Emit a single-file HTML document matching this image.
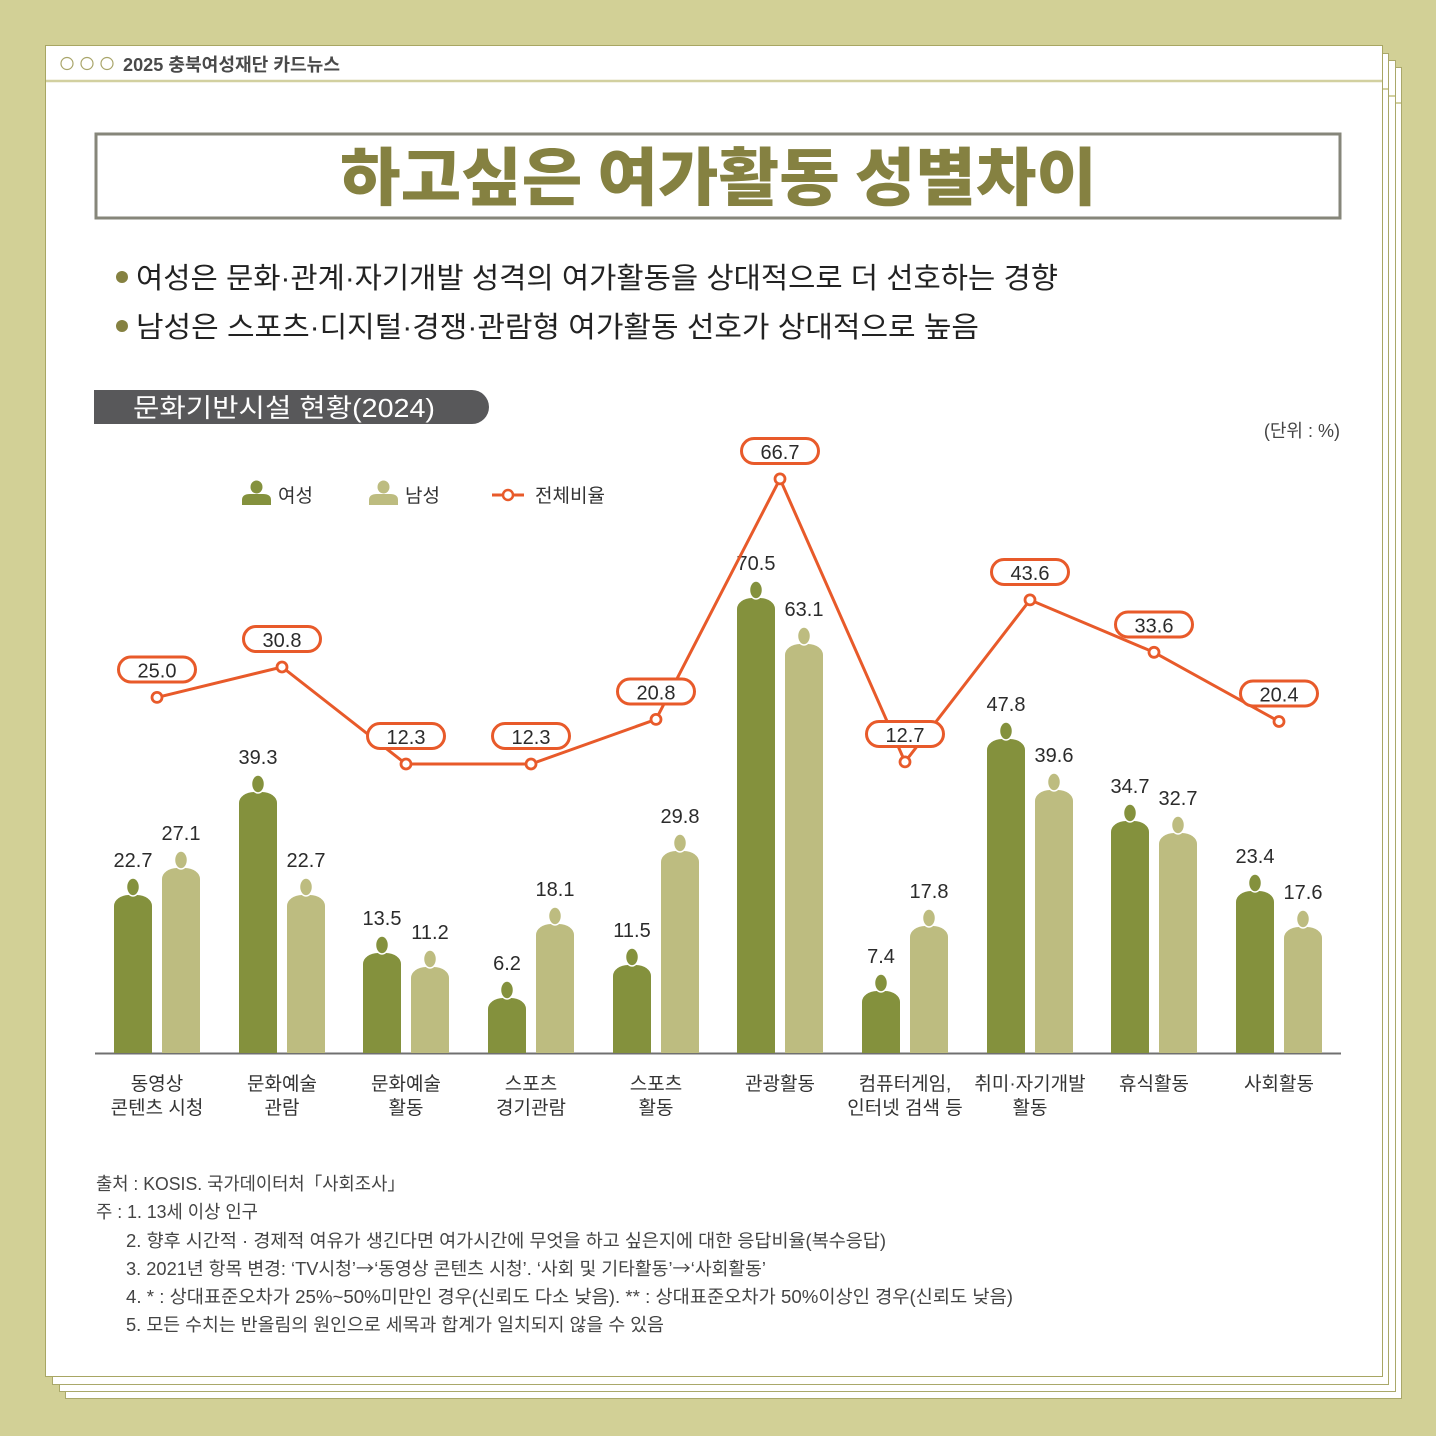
<!DOCTYPE html>
<html><head><meta charset="utf-8"><style>
html,body{margin:0;padding:0;background:#d2d096;}
svg{display:block;}
text{font-family:"Liberation Sans","Noto Sans CJK KR",sans-serif;}
.v{font-size:20px;fill:#2b2b2b;text-anchor:middle;}
.xl{font-size:19px;fill:#333;text-anchor:middle;}
.fn{font-size:18px;fill:#444;}
.ar{font-family:"Noto Sans CJK KR",sans-serif;}
</style></head><body>
<svg width="1436" height="1436" viewBox="0 0 1436 1436" xmlns="http://www.w3.org/2000/svg">
<rect width="1436" height="1436" fill="#d2d096"/>
<!-- stacked cards -->
<rect x="65.5" y="67.5" width="1336" height="1331" fill="#fff" stroke="#aaa86a"/>
<line x1="66" y1="103" x2="1401" y2="103" stroke="#d2d0a0" stroke-width="2"/>
<rect x="59.5" y="60.5" width="1336" height="1331" fill="#fff" stroke="#aaa86a"/>
<line x1="60" y1="96" x2="1395" y2="96" stroke="#d2d0a0" stroke-width="2"/>
<rect x="52.5" y="53.5" width="1336" height="1331" fill="#fff" stroke="#aaa86a"/>
<line x1="53" y1="89" x2="1388" y2="89" stroke="#d2d0a0" stroke-width="2"/>
<rect x="45.5" y="45.5" width="1337" height="1331" fill="#fff" stroke="#a8a663"/>
<line x1="46" y1="81" x2="1382" y2="81" stroke="#d2d0a0" stroke-width="2.5"/>
<!-- header -->
<circle cx="67" cy="63.5" r="6" fill="none" stroke="#a9a56a" stroke-width="1.2"/>
<circle cx="87" cy="63.5" r="6" fill="none" stroke="#a9a56a" stroke-width="1.2"/>
<circle cx="107" cy="63.5" r="6" fill="none" stroke="#a9a56a" stroke-width="1.2"/>
<text x="123" y="71" font-size="18" font-weight="700" fill="#4a4a4a" textLength="217" lengthAdjust="spacingAndGlyphs">2025 충북여성재단 카드뉴스</text>
<!-- title -->
<rect x="96" y="134" width="1244" height="84" fill="none" stroke="#86867a" stroke-width="3"/>
<text x="340" y="200" font-size="63" font-weight="900" fill="#858141" style='font-family:"Noto Sans CJK KR",sans-serif' textLength="757" lengthAdjust="spacingAndGlyphs">하고싶은 여가활동 성별차이</text>
<!-- bullets -->
<circle cx="122" cy="277" r="6" fill="#858141"/>
<text x="136" y="288" font-size="29" fill="#222" textLength="922" lengthAdjust="spacingAndGlyphs">여성은 문화·관계·자기개발 성격의 여가활동을 상대적으로 더 선호하는 경향</text>
<circle cx="122" cy="326" r="6" fill="#858141"/>
<text x="136" y="337" font-size="29" fill="#222" textLength="843" lengthAdjust="spacingAndGlyphs">남성은 스포츠·디지털·경쟁·관람형 여가활동 선호가 상대적으로 높음</text>
<!-- section pill -->
<path d="M94 390H472A17 17 0 0 1 472 424H94Z" fill="#58585a"/>
<text x="133" y="417" font-size="26" fill="#fff" textLength="302" lengthAdjust="spacingAndGlyphs">문화기반시설 현황(2024)</text>
<text x="1340" y="437" font-size="18" fill="#444" text-anchor="end">(단위 : %)</text>
<!-- legend -->
<ellipse cx="256.5" cy="487" rx="6" ry="6.5" fill="#84913d"/>
<path d="M242 505V500Q242 494 250 494H263Q271 494 271 500V505Z" fill="#84913d"/>
<text x="278" y="502" font-size="19" fill="#333">여성</text>
<ellipse cx="383.5" cy="487" rx="6" ry="6.5" fill="#bdbc80"/>
<path d="M369 505V500Q369 494 377 494H390Q398 494 398 500V505Z" fill="#bdbc80"/>
<text x="405" y="502" font-size="19" fill="#333">남성</text>
<line x1="492" y1="495" x2="524" y2="495" stroke="#e85a2a" stroke-width="3"/>
<circle cx="508" cy="495" r="5" fill="#fff" stroke="#e85a2a" stroke-width="2.5"/>
<text x="535" y="502" font-size="19" fill="#333">전체비율</text>
<!-- axis -->
<line x1="95" y1="1053.5" x2="1341" y2="1053.5" stroke="#707070" stroke-width="2"/>
<!-- female bars -->
<g fill="#84913d" stroke="#fff" stroke-width="1.5">
<path d="M114 1053V906A15 11 0 0 1 129 895H137A15 11 0 0 1 152 906V1053Z" stroke="none"/><ellipse cx="133" cy="887" rx="6.5" ry="9"/>
<path d="M239 1053V803A15 11 0 0 1 254 792H262A15 11 0 0 1 277 803V1053Z" stroke="none"/><ellipse cx="258" cy="784" rx="6.5" ry="9"/>
<path d="M363 1053V964A15 11 0 0 1 378 953H386A15 11 0 0 1 401 964V1053Z" stroke="none"/><ellipse cx="382" cy="945" rx="6.5" ry="9"/>
<path d="M488 1053V1009A15 11 0 0 1 503 998H511A15 11 0 0 1 526 1009V1053Z" stroke="none"/><ellipse cx="507" cy="990" rx="6.5" ry="9"/>
<path d="M613 1053V976A15 11 0 0 1 628 965H636A15 11 0 0 1 651 976V1053Z" stroke="none"/><ellipse cx="632" cy="957" rx="6.5" ry="9"/>
<path d="M737 1053V609A15 11 0 0 1 752 598H760A15 11 0 0 1 775 609V1053Z" stroke="none"/><ellipse cx="756" cy="590" rx="6.5" ry="9"/>
<path d="M862 1053V1002A15 11 0 0 1 877 991H885A15 11 0 0 1 900 1002V1053Z" stroke="none"/><ellipse cx="881" cy="983" rx="6.5" ry="9"/>
<path d="M987 1053V750A15 11 0 0 1 1002 739H1010A15 11 0 0 1 1025 750V1053Z" stroke="none"/><ellipse cx="1006" cy="731" rx="6.5" ry="9"/>
<path d="M1111 1053V832A15 11 0 0 1 1126 821H1134A15 11 0 0 1 1149 832V1053Z" stroke="none"/><ellipse cx="1130" cy="813" rx="6.5" ry="9"/>
<path d="M1236 1053V902A15 11 0 0 1 1251 891H1259A15 11 0 0 1 1274 902V1053Z" stroke="none"/><ellipse cx="1255" cy="883" rx="6.5" ry="9"/>
</g>
<!-- male bars -->
<g fill="#bdbc80" stroke="#fff" stroke-width="1.5">
<path d="M162 1053V879A15 11 0 0 1 177 868H185A15 11 0 0 1 200 879V1053Z" stroke="none"/><ellipse cx="181" cy="860" rx="6.5" ry="9"/>
<path d="M287 1053V906A15 11 0 0 1 302 895H310A15 11 0 0 1 325 906V1053Z" stroke="none"/><ellipse cx="306" cy="887" rx="6.5" ry="9"/>
<path d="M411 1053V978A15 11 0 0 1 426 967H434A15 11 0 0 1 449 978V1053Z" stroke="none"/><ellipse cx="430" cy="959" rx="6.5" ry="9"/>
<path d="M536 1053V935A15 11 0 0 1 551 924H559A15 11 0 0 1 574 935V1053Z" stroke="none"/><ellipse cx="555" cy="916" rx="6.5" ry="9"/>
<path d="M661 1053V862A15 11 0 0 1 676 851H684A15 11 0 0 1 699 862V1053Z" stroke="none"/><ellipse cx="680" cy="843" rx="6.5" ry="9"/>
<path d="M785 1053V655A15 11 0 0 1 800 644H808A15 11 0 0 1 823 655V1053Z" stroke="none"/><ellipse cx="804" cy="636" rx="6.5" ry="9"/>
<path d="M910 1053V937A15 11 0 0 1 925 926H933A15 11 0 0 1 948 937V1053Z" stroke="none"/><ellipse cx="929" cy="918" rx="6.5" ry="9"/>
<path d="M1035 1053V801A15 11 0 0 1 1050 790H1058A15 11 0 0 1 1073 801V1053Z" stroke="none"/><ellipse cx="1054" cy="782" rx="6.5" ry="9"/>
<path d="M1159 1053V844A15 11 0 0 1 1174 833H1182A15 11 0 0 1 1197 844V1053Z" stroke="none"/><ellipse cx="1178" cy="825" rx="6.5" ry="9"/>
<path d="M1284 1053V938A15 11 0 0 1 1299 927H1307A15 11 0 0 1 1322 938V1053Z" stroke="none"/><ellipse cx="1303" cy="919" rx="6.5" ry="9"/>
</g>
<!-- bar value labels -->
<text class="v" x="133" y="867">22.7</text><text class="v" x="181" y="840">27.1</text>
<text class="v" x="258" y="764">39.3</text><text class="v" x="306" y="867">22.7</text>
<text class="v" x="382" y="925">13.5</text><text class="v" x="430" y="939">11.2</text>
<text class="v" x="507" y="970">6.2</text><text class="v" x="555" y="896">18.1</text>
<text class="v" x="632" y="937">11.5</text><text class="v" x="680" y="823">29.8</text>
<text class="v" x="756" y="570">70.5</text><text class="v" x="804" y="616">63.1</text>
<text class="v" x="881" y="963">7.4</text><text class="v" x="929" y="898">17.8</text>
<text class="v" x="1006" y="711">47.8</text><text class="v" x="1054" y="762">39.6</text>
<text class="v" x="1130" y="793">34.7</text><text class="v" x="1178" y="805">32.7</text>
<text class="v" x="1255" y="863">23.4</text><text class="v" x="1303" y="899">17.6</text>
<!-- total line -->
<polyline points="157,697.4 282,667 406,764 531,764 656,719.4 780,478.9 905,761.9 1030,599.9 1154,652.3 1279,721.5" fill="none" stroke="#e85a2a" stroke-width="3" stroke-linejoin="miter"/>
<g fill="#fff" stroke="#e85a2a" stroke-width="2.8">
<circle cx="157" cy="697.4" r="5"/><circle cx="282" cy="667" r="5"/><circle cx="406" cy="764" r="5"/><circle cx="531" cy="764" r="5"/><circle cx="656" cy="719.4" r="5"/><circle cx="780" cy="478.9" r="5"/><circle cx="905" cy="761.9" r="5"/><circle cx="1030" cy="599.9" r="5"/><circle cx="1154" cy="652.3" r="5"/><circle cx="1279" cy="721.5" r="5"/>
</g>
<g fill="#fff" stroke="#e85a2a" stroke-width="3">
<rect x="118.5" y="657" width="77" height="25" rx="12.5"/>
<rect x="243.5" y="626.5" width="77" height="25" rx="12.5"/>
<rect x="367.5" y="723.5" width="77" height="25" rx="12.5"/>
<rect x="492.5" y="723.5" width="77" height="25" rx="12.5"/>
<rect x="617.5" y="679" width="77" height="25" rx="12.5"/>
<rect x="741.5" y="438.5" width="77" height="25" rx="12.5"/>
<rect x="866.5" y="721.5" width="77" height="25" rx="12.5"/>
<rect x="991.5" y="559.5" width="77" height="25" rx="12.5"/>
<rect x="1115.5" y="612" width="77" height="25" rx="12.5"/>
<rect x="1240.5" y="681" width="77" height="25" rx="12.5"/>
</g>
<text class="v" x="157" y="677.4">25.0</text>
<text class="v" x="282" y="647">30.8</text>
<text class="v" x="406" y="744">12.3</text>
<text class="v" x="531" y="744">12.3</text>
<text class="v" x="656" y="699.4">20.8</text>
<text class="v" x="780" y="458.9">66.7</text>
<text class="v" x="905" y="741.9">12.7</text>
<text class="v" x="1030" y="579.9">43.6</text>
<text class="v" x="1154" y="632.3">33.6</text>
<text class="v" x="1279" y="701.5">20.4</text>
<!-- x labels -->
<text class="xl" x="157" y="1090">동영상</text><text class="xl" x="157" y="1114">콘텐츠 시청</text>
<text class="xl" x="282" y="1090">문화예술</text><text class="xl" x="282" y="1114">관람</text>
<text class="xl" x="406" y="1090">문화예술</text><text class="xl" x="406" y="1114">활동</text>
<text class="xl" x="531" y="1090">스포츠</text><text class="xl" x="531" y="1114">경기관람</text>
<text class="xl" x="656" y="1090">스포츠</text><text class="xl" x="656" y="1114">활동</text>
<text class="xl" x="780" y="1090">관광활동</text>
<text class="xl" x="905" y="1090">컴퓨터게임,</text><text class="xl" x="905" y="1114">인터넷 검색 등</text>
<text class="xl" x="1030" y="1090">취미·자기개발</text><text class="xl" x="1030" y="1114">활동</text>
<text class="xl" x="1154" y="1090">휴식활동</text>
<text class="xl" x="1279" y="1090">사회활동</text>
<!-- footnotes -->
<text class="fn" x="96" y="1190" textLength="309" lengthAdjust="spacingAndGlyphs">출처 :  KOSIS. 국가데이터처「사회조사」</text>
<text class="fn" x="96" y="1218" textLength="162" lengthAdjust="spacingAndGlyphs">주 : 1. 13세 이상 인구</text>
<text class="fn" x="126" y="1247" textLength="760" lengthAdjust="spacingAndGlyphs">2. 향후 시간적 · 경제적 여유가 생긴다면 여가시간에 무엇을 하고 싶은지에 대한 응답비율(복수응답)</text>
<text class="fn" x="126" y="1275" textLength="640" lengthAdjust="spacingAndGlyphs">3. 2021년 항목 변경: ‘TV시청’<tspan class="ar">→</tspan>‘동영상 콘텐츠 시청’. ‘사회 및 기타활동’<tspan class="ar">→</tspan>‘사회활동’</text>
<text class="fn" x="126" y="1303" textLength="887" lengthAdjust="spacingAndGlyphs">4. * : 상대표준오차가 25%~50%미만인 경우(신뢰도 다소 낮음). ** : 상대표준오차가 50%이상인 경우(신뢰도 낮음)</text>
<text class="fn" x="126" y="1331" textLength="538" lengthAdjust="spacingAndGlyphs">5. 모든 수치는 반올림의 원인으로 세목과 합계가 일치되지 않을 수 있음</text>
</svg>
</body></html>
